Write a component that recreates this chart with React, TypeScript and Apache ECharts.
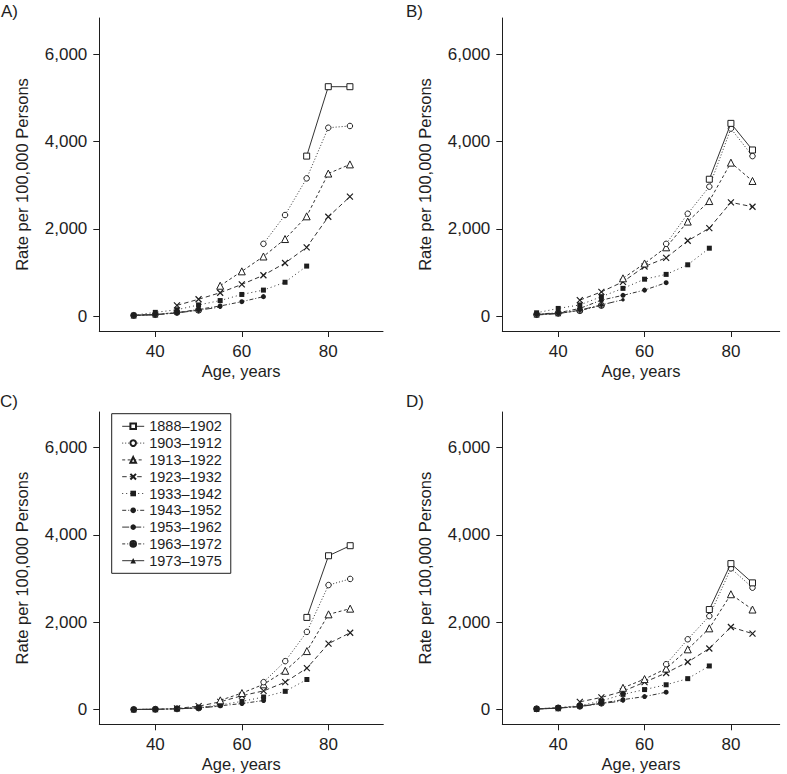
import React, { useEffect, useRef } from "react";
import * as echarts from "echarts";

// Birth cohorts (legend labels)
const COHORTS = [
  "1888–1902",
  "1903–1912",
  "1913–1922",
  "1923–1932",
  "1933–1942",
  "1943–1952",
  "1953–1962",
  "1963–1972",
  "1973–1975",
];

// Ages (years) observed for each cohort, same order as COHORTS
const AGES: number[][] = [
  [75, 80, 85],
  [65, 70, 75, 80, 85],
  [55, 60, 65, 70, 75, 80, 85],
  [45, 50, 55, 60, 65, 70, 75, 80, 85],
  [35, 40, 45, 50, 55, 60, 65, 70, 75],
  [35, 40, 45, 50, 55, 60, 65],
  [35, 40, 45, 50, 55],
  [35, 40, 45, 50],
  [35, 40],
];

// Rates per 100,000 persons, panel A
const RATES_A: number[][] = [
  [3670, 5260, 5260],
  [1660, 2320, 3160, 4320, 4360],
  [700, 1030, 1370, 1770, 2290, 3270, 3480],
  [250, 390, 540, 730, 940, 1220, 1580, 2280, 2740],
  [25, 90, 150, 260, 360, 500, 600, 780, 1150],
  [25, 40, 80, 160, 236, 335, 450],
  [20, 35, 75, 140, 210],
  [20, 40, 90, 140],
  [20, 40],
];

// Panel B
const RATES_B: number[][] = [
  [3140, 4420, 3810],
  [1660, 2350, 2970, 4300, 3670],
  [870, 1210, 1580, 2170, 2640, 3520, 3100],
  [370, 560, 790, 1140, 1340, 1730, 2020, 2610, 2510],
  [80, 180, 260, 450, 640, 850, 960, 1180, 1560],
  [50, 80, 180, 370, 480, 600, 770],
  [30, 60, 140, 260, 380],
  [40, 70, 130, 250],
  [40, 70],
];

// Panel C
const RATES_C: number[][] = [
  [2110, 3520, 3750],
  [630, 1110, 1780, 2850, 2990],
  [214, 380, 580, 890, 1340, 2180, 2310],
  [30, 80, 180, 320, 430, 630, 950, 1510, 1760],
  [5, 10, 25, 50, 110, 190, 290, 420, 690],
  [5, 10, 20, 45, 90, 140, 210],
  [5, 8, 20, 40, 80],
  [5, 10, 20, 40],
  [5, 10],
];

// Panel D
const RATES_D: number[][] = [
  [2290, 3340, 2900],
  [1040, 1610, 2140, 3230, 2790],
  [500, 700, 940, 1380, 1860, 2640, 2290],
  [180, 280, 420, 630, 840, 1090, 1400, 1890, 1740],
  [20, 50, 90, 200, 350, 460, 570, 710, 1000],
  [20, 40, 75, 150, 230, 300, 400],
  [15, 35, 70, 140, 200],
  [20, 40, 80, 150],
  [15, 35],
];

const PANEL_RATES = [RATES_A, RATES_B, RATES_C, RATES_D];
const PANEL_LABELS = ["A)", "B)", "C)", "D)"];
const X_TICKS = [40, 60, 80];
const Y_TICKS = [0, 2000, 4000, 6000];

const FONT = '"Liberation Sans", Arial, Helvetica, sans-serif';
const INK = "#1e1e1e";
const LINE = "#333333";

const X_PATH = "path://M0,0L10,10M10,0L0,10";
const OPLUS_PATH =
  "path://M0,5A5,5,0,1,1,10,5A5,5,0,1,1,0,5ZM5,0L5,10M0,5L10,5";

// Marker / line styling per cohort
const STYLES: any[] = [
  { symbol: "rect", size: 6, fill: "#ffffff", border: INK, bw: 1, dash: "solid" },
  { symbol: "circle", size: 5.5, fill: "#ffffff", border: INK, bw: 1, dash: [1, 2] },
  { symbol: "triangle", size: 7, fill: "#ffffff", border: INK, bw: 1, dash: [3, 2.5] },
  { symbol: X_PATH, size: 6, fill: INK, border: INK, bw: 1.2, dash: [4.5, 3] },
  { symbol: "rect", size: 5, fill: INK, border: INK, bw: 0, dash: [1, 3] },
  { symbol: "circle", size: 5, fill: INK, border: INK, bw: 0, dash: [4, 2, 1, 2] },
  { symbol: "circle", size: 3.5, fill: INK, border: INK, bw: 0, dash: [7, 2, 1, 2] },
  { symbol: OPLUS_PATH, size: 6, fill: "#8a8a8a", border: INK, bw: 1, dash: [3, 2, 1, 2] },
  { symbol: "triangle", size: 6, fill: INK, border: INK, bw: 0, dash: "solid" },
];

const LAYOUT = [
  { left: 99.3, top: 18, width: 283.7, height: 313, xMax: 92.65, yMin: -337, yMax: 6834, lx: 1, ly: 3 },
  { left: 502.3, top: 18, width: 277.4, height: 313, xMax: 91.3, yMin: -337, yMax: 6834, lx: 406, ly: 3 },
  { left: 99.3, top: 412, width: 284, height: 312.3, xMax: 92.65, yMin: -334, yMax: 6807, lx: 0, ly: 393 },
  { left: 502.3, top: 412, width: 277.4, height: 312.3, xMax: 91.3, yMin: -334, yMax: 6807, lx: 406, ly: 393 },
];

export default function App() {
  const ref = useRef<HTMLDivElement>(null);

  useEffect(() => {
    if (!ref.current) return;
    const chart = echarts.init(ref.current, null, { renderer: "svg" });

    const axisLine = { show: true, onZero: false, lineStyle: { color: INK, width: 1 } };

    const grid = LAYOUT.map((g) => ({
      left: g.left,
      top: g.top,
      width: g.width,
      height: g.height,
      containLabel: false,
    }));

    const xAxis = LAYOUT.map((g, i) => ({
      type: "value",
      gridIndex: i,
      min: 27.05,
      max: g.xMax,
      axisLine,
      axisTick: { show: true, length: 6, customValues: X_TICKS, lineStyle: { color: INK, width: 1 } },
      axisLabel: {
        customValues: X_TICKS,
        fontSize: 17,
        fontFamily: FONT,
        color: INK,
        margin: 11.5,
      },
      splitLine: { show: false },
      name: "Age, years",
      nameLocation: "middle",
      nameGap: 31,
      nameTextStyle: { fontSize: 16.5, fontFamily: FONT, color: INK },
    }));

    const yAxis = LAYOUT.map((g, i) => ({
      type: "value",
      gridIndex: i,
      min: g.yMin,
      max: g.yMax,
      axisLine,
      axisTick: { show: true, length: 6, customValues: Y_TICKS, lineStyle: { color: INK, width: 1 } },
      axisLabel: {
        customValues: Y_TICKS,
        fontSize: 17,
        fontFamily: FONT,
        color: INK,
        margin: 12,
        formatter: (v: number) => v.toLocaleString("en-US"),
      },
      splitLine: { show: false },
      name: "Rate per 100,000 Persons",
      nameLocation: "middle",
      nameRotate: 90,
      nameGap: 69,
      nameTextStyle: { fontSize: 16.5, fontFamily: FONT, color: INK },
    }));

    const series: any[] = [];
    PANEL_RATES.forEach((rates, p) => {
      COHORTS.forEach((name, c) => {
        const st = STYLES[c];
        series.push({
          type: "line",
          name,
          xAxisIndex: p,
          yAxisIndex: p,
          data: AGES[c].map((age, k) => [age, rates[c][k]]),
          symbol: st.symbol,
          symbolSize: st.size,
          showSymbol: true,
          lineStyle: { color: LINE, width: 1, type: st.dash },
          itemStyle: { color: st.fill, borderColor: st.border, borderWidth: st.bw },
          z: 2 + (COHORTS.length - c),
          emphasis: { disabled: true },
        });
      });
    });

    const option: any = {
      animation: false,
      backgroundColor: "#ffffff",
      textStyle: { fontFamily: FONT },
      grid,
      xAxis,
      yAxis,
      series,
      legend: {
        data: COHORTS,
        orient: "vertical",
        left: 111.7,
        top: 413.7,
        padding: [4.2, 9, 4.2, 10],
        itemGap: 0,
        itemWidth: 22,
        itemHeight: 7,
        selectedMode: false,
        borderColor: INK,
        borderWidth: 1,
        backgroundColor: "#ffffff",
        lineStyle: { width: 1 },
        textStyle: { fontSize: 14.5, fontFamily: FONT, color: INK, lineHeight: 16.8 },
      },
      graphic: LAYOUT.map((g, i) => ({
        type: "text",
        left: g.lx,
        top: g.ly,
        style: {
          text: PANEL_LABELS[i],
          fontSize: 17,
          fontFamily: FONT,
          fill: INK,
        },
      })),
    };

    chart.setOption(option);
    return () => chart.dispose();
  }, []);

  return (
    <div
      ref={ref}
      style={{ position: "absolute", left: 0, top: 0, width: 787, height: 774, background: "#fff" }}
    />
  );
}
